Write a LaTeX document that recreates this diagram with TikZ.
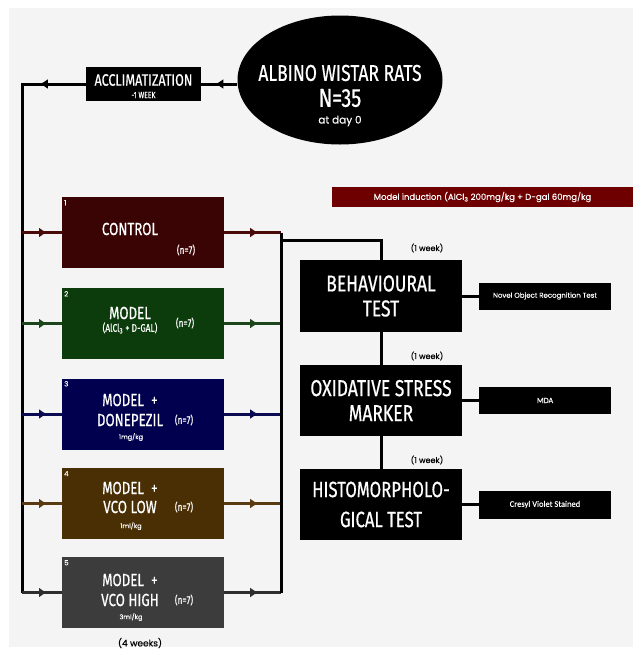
\documentclass[tikz,border=0pt]{standalone}
\usepackage{fontspec}
\setmainfont{Poppins}
\newfontfamily\hd[FakeStretch=0.76,FakeBold=0.6]{Fira Sans}
\newfontfamily\popm[FakeBold=0.4]{Poppins}
\newfontfamily\cb[FakeBold=0.3]{Carlito}
\usetikzlibrary{shapes.geometric,arrows.meta,decorations.markings}
\definecolor{bg}{HTML}{F4F4F4}
\definecolor{cA}{HTML}{3B0404}
\definecolor{cB}{HTML}{0C3C0C}
\definecolor{cC}{HTML}{00004E}
\definecolor{cD}{HTML}{4B2F04}
\definecolor{cE}{HTML}{3C3C3C}
\definecolor{lA}{HTML}{4A0A0A}
\definecolor{lB}{HTML}{1C451C}
\definecolor{lC}{HTML}{0A0A52}
\definecolor{lD}{HTML}{5A3A10}
\definecolor{lE}{HTML}{2E2E2E}
\definecolor{ind}{HTML}{6E0000}
\tikzset{
  grp/.style={minimum width=162pt, minimum height=71pt, inner sep=0pt},
  blk/.style={fill=black, inner sep=0pt, text=white, align=center},
  wt/.style={text=white, inner sep=0pt, align=center},
  bt/.style={text=black, inner sep=0pt, align=center},
  conn/.style={line width=3pt},
  midarrow/.style={postaction={decorate}, decoration={markings, mark=at position #1 with {\arrow{Latex[length=8pt,width=10pt]}}}},
  hdA/.style={font=\hd\fontsize{23}{25}\selectfont},
  gtitle/.style={wt, font=\hd\fontsize{17.5}{17.5}\selectfont},
  gsmall/.style={wt, font=\hd\fontsize{11}{11}\selectfont},
  gdose/.style={wt, font=\popm\fontsize{6.5}{6.5}\selectfont},
  gnum/.style={wt, font=\popm\fontsize{7}{7}\selectfont, anchor=north west},
  wk/.style={bt, font=\popm\fontsize{8}{8}\selectfont},
}
\begin{document}
\begin{tikzpicture}[x=1pt,y=-1pt]
\useasboundingbox (0,0) rectangle (633,657);
\fill[white] (0,0) rectangle (633,657);
\fill[bg] (9,8) rectangle (633,647);

% top
\node[ellipse, fill=black, minimum width=205pt, minimum height=129pt, inner sep=0pt] (rats) at (340,80) {};
\node[wt, font=\hd\fontsize{23}{23}\selectfont] (ratsA) at (340,73) {ALBINO WISTAR RATS};
\node[wt, font=\hd\fontsize{26}{26}\selectfont] (ratsB) at (340,98) {N=35};
\node[wt, font=\popm\fontsize{10.5}{10.5}\selectfont] (ratsC) at (340,121) {at day 0};

\node[blk, minimum width=115pt, minimum height=34pt] (accl) at (143.5,84) {};
\node[wt, font=\hd\fontsize{16.5}{16.5}\selectfont] (acclA) at (143.5,80) {ACCLIMATIZATION};
\node[wt, font=\hd\fontsize{9}{9}\selectfont] (acclB) at (143.5,95) {-1 WEEK};

\coordinate (ltop) at (22,84);
\coordinate (l1) at (22,232.5);
\coordinate (l2) at (22,323.5);
\coordinate (l3) at (22,414);
\coordinate (l4) at (22,503.5);
\coordinate (l5) at (22,592.5);
\coordinate (r1) at (281,232.5);
\coordinate (r2) at (281,323.5);
\coordinate (r3) at (281,414);
\coordinate (r4) at (281,503.5);
\coordinate (r5) at (281,592.5);
\coordinate (rt) at (281,240);

\draw[conn, midarrow=22pt] (rats.west |- accl.east) -- (accl.east);
\draw[conn, midarrow=46pt] (accl.west) -- (ltop) -- (l5);

% groups
\node[grp, fill=cA] (g1) at (143,232.5) {};
\node[grp, fill=cB] (g2) at (143,323.5) {};
\node[grp, fill=cC] (g3) at (143,414) {};
\node[grp, fill=cD] (g4) at (143,503.5) {};
\node[grp, fill=cE] (g5) at (143,592.5) {};

\node[gnum] (k1) at (64,200) {1};
\node[gnum] (k2) at (64,291) {2};
\node[gnum] (k3) at (64,381) {3};
\node[gnum] (k4) at (64,471) {4};
\node[gnum] (k5) at (64,560) {5};

\node[gtitle] (t1) at (130,229) {CONTROL};
\node[gsmall] (n1) at (186,250) {(n=7)};

\node[gtitle] (t2a) at (130,313) {MODEL};
\node[gsmall] (t2b) at (130,328) {(AlCl\textsubscript{3} + D-GAL)};
\node[gsmall] (n2) at (185,323) {(n=7)};

\node[gtitle] (t3a) at (130,400) {MODEL~~+};
\node[gtitle] (t3b) at (130,420) {DONEPEZIL};
\node[gdose] (t3c) at (131,437) {1mg/kg};
\node[gsmall] (n3) at (184,420) {(n=7)};

\node[gtitle] (t4a) at (130,488) {MODEL~~+};
\node[gtitle] (t4b) at (130,507) {VCO LOW};
\node[gdose] (t4c) at (131,526) {1ml/kg};
\node[gsmall] (n4) at (184,507) {(n=7)};

\node[gtitle] (t5a) at (130,580) {MODEL~~+};
\node[gtitle] (t5b) at (130,600) {VCO HIGH};
\node[gdose] (t5c) at (131,617) {3ml/kg};
\node[gsmall] (n5) at (184,600) {(n=7)};

\node[bt, font=\popm\fontsize{9}{9}\selectfont] (four) at (140,643) {(4 weeks)};

\draw[conn, draw=lA, midarrow=25pt] (l1) -- (g1.west);
\draw[conn, draw=lB, midarrow=25pt] (l2) -- (g2.west);
\draw[conn, draw=lC, midarrow=25pt] (l3) -- (g3.west);
\draw[conn, draw=lD, midarrow=25pt] (l4) -- (g4.west);
\draw[conn, draw=lE, midarrow=25pt] (l5) -- (g5.west);

\draw[conn, draw=lA, midarrow=34pt] (g1.east) -- (r1);
\draw[conn, draw=lB, midarrow=34pt] (g2.east) -- (r2);
\draw[conn, draw=lC, midarrow=34pt] (g3.east) -- (r3);
\draw[conn, draw=lD, midarrow=34pt] (g4.east) -- (r4);
\draw[conn, draw=lE, midarrow=34pt] (g5.east) -- (r5);
\draw[conn] (r1) -- (r5);

% induction bar
\node[fill=ind, minimum width=301pt, minimum height=20pt, inner sep=0pt, text=white, font=\popm\fontsize{8.5}{8.5}\selectfont] (induct) at (482.5,197) {Model induction (AlCl\textsubscript{3} 200mg/kg + D-gal 60mg/kg};

% right column
\node[blk, minimum width=162pt, minimum height=72pt, hdA] (beh) at (381,296) {BEHAVIOURAL\\TEST};
\node[blk, minimum width=162pt, minimum height=71pt, hdA] (ox) at (381,400.5) {OXIDATIVE STRESS\\MARKER};
\node[blk, minimum width=162pt, minimum height=71pt, font=\hd\fontsize{22}{30}\selectfont] (hist) at (381,504.5) {HISTOMORPHOLO-\\GICAL TEST};

\node[blk, minimum width=132pt, minimum height=27pt, font=\popm\fontsize{7}{7}\selectfont] (nor) at (545,296) {Novel Object Recognition Test};
\node[blk, minimum width=132pt, minimum height=27pt, font=\cb\fontsize{8}{8}\selectfont] (mda) at (545,400.5) {MDA};
\node[blk, minimum width=132pt, minimum height=28pt, font=\cb\fontsize{8.5}{8.5}\selectfont] (cres) at (545,504.5) {Cresyl Violet Stained};

\draw[conn] (beh.north) -- (beh.north |- rt) -- (rt);
\draw[conn] (beh.south) -- (ox.north);
\draw[conn] (ox.south) -- (hist.north);
\draw[conn] (beh.east) -- (nor.west);
\draw[conn] (ox.east) -- (mda.west);
\draw[conn] (hist.east) -- (cres.west);

\node[wk] (w1) at (427,248) {(1 week)};
\node[wk] (w2) at (427,356) {(1 week)};
\node[wk] (w3) at (427,460) {(1 week)};
\end{tikzpicture}
\end{document}
